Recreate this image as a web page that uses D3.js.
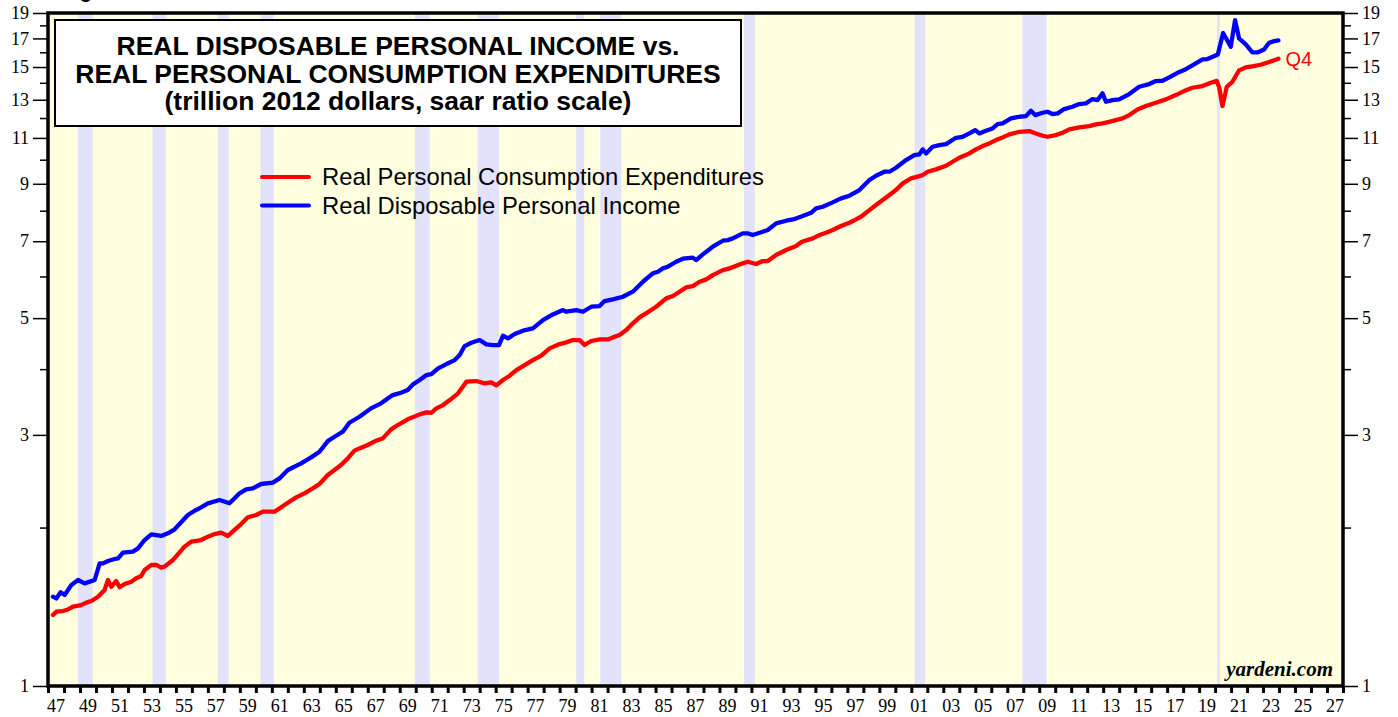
<!DOCTYPE html>
<html>
<head>
<meta charset="utf-8">
<script src="https://cdn.jsdelivr.net/npm/d3@7"></script>
<style>
  html, body { margin: 0; padding: 0; background: #ffffff; }
  svg { display: block; }
  .tick text { font-family: "Liberation Serif", "Times New Roman", serif; font-size: 18px; fill: #000; }
</style>
</head>
<body>
<svg id="chart" width="1398" height="717"></svg>
<script>
// Quarterly observations (decimal year, trillions of 2012 dollars, saar)
const rpceDates = [
  1947.31,1947.52,1947.94,1948.25,1948.56,1949.08,1949.40,1949.71,1950.13,1950.54,1950.75,1950.96,
  1951.27,1951.48,1951.79,1952.21,1952.52,1952.83,1953.04,1953.46,1953.77,1954.08,1954.29,1954.81,
  1955.54,1955.96,1956.58,1957.00,1957.42,1957.83,1958.25,1958.67,1959.08,1959.50,1960.02,1960.44,
  1961.17,1961.58,1962.00,1962.52,1963.04,1963.56,1963.98,1964.50,1964.92,1965.33,1965.75,1966.17,
  1966.48,1967.00,1967.52,1967.94,1968.46,1968.88,1969.50,1970.25,1970.67,1970.98,1971.29,1971.71,
  1972.13,1972.65,1973.17,1973.79,1974.31,1974.73,1975.04,1975.46,1975.88,1976.29,1976.81,1977.33,
  1977.85,1978.38,1979.00,1979.42,1979.83,1980.25,1980.56,1980.98,1981.50,1982.02,1982.33,1982.75,
  1983.17,1983.58,1984.00,1984.63,1985.04,1985.67,1986.08,1986.50,1986.92,1987.33,1987.75,1988.17,
  1988.58,1989.21,1989.63,1990.46,1990.77,1991.29,1991.71,1992.02,1992.54,1993.17,1993.79,1994.15,
  1994.83,1995.25,1995.67,1996.08,1996.60,1997.13,1997.54,1997.85,1998.38,1998.79,1999.21,1999.63,
  2000.04,2000.46,2000.98,2001.50,2001.71,2002.02,2002.54,2003.17,2003.58,2004.00,2004.63,2005.04,
  2005.46,2005.88,2006.29,2006.71,2007.13,2007.75,2008.38,2008.79,2009.21,2009.52,2010.04,2010.46,
  2010.88,2011.50,2012.13,2012.54,2012.96,2013.38,2013.79,2014.21,2014.63,2015.15,2015.67,2016.29,
  2016.92,2017.54,2018.06,2018.58,2019.21,2019.73,2020.10,2020.25,2020.46,2020.73,2021.08,2021.50,
  2021.92,2022.40,2022.85,2023.38,2023.96
];
const rpceValues = [
  1.364,1.384,1.388,1.398,1.415,1.425,1.440,1.450,1.478,1.522,1.590,1.544,
  1.583,1.540,1.562,1.578,1.602,1.618,1.661,1.698,1.698,1.678,1.686,1.735,
  1.840,1.880,1.894,1.922,1.944,1.956,1.928,1.979,2.031,2.092,2.113,2.144,
  2.144,2.185,2.230,2.283,2.323,2.374,2.420,2.517,2.573,2.629,2.707,2.800,
  2.828,2.870,2.925,2.955,3.073,3.132,3.211,3.282,3.311,3.305,3.369,3.418,
  3.494,3.598,3.786,3.797,3.759,3.775,3.726,3.814,3.887,3.984,4.072,4.162,
  4.242,4.380,4.464,4.497,4.543,4.543,4.445,4.524,4.556,4.556,4.596,4.643,
  4.746,4.887,5.017,5.157,5.256,5.451,5.507,5.613,5.720,5.753,5.863,5.924,
  6.036,6.170,6.216,6.354,6.400,6.335,6.419,6.419,6.590,6.735,6.854,6.985,
  7.087,7.191,7.265,7.351,7.481,7.590,7.702,7.791,8.022,8.200,8.381,8.567,
  8.756,9.016,9.215,9.309,9.350,9.488,9.586,9.740,9.912,10.087,10.279,10.461,
  10.614,10.739,10.897,11.025,11.171,11.300,11.334,11.218,11.105,11.056,11.138,11.252,
  11.418,11.518,11.584,11.669,11.722,11.804,11.892,11.980,12.155,12.462,12.644,12.828,
  13.021,13.268,13.502,13.700,13.800,14.000,14.120,13.750,12.640,13.760,14.063,14.780,
  14.980,15.060,15.150,15.330,15.560
];

const rdpiDates = [
  1947.31,1947.52,1947.79,1948.04,1948.46,1948.88,1949.29,1949.92,1950.23,1950.44,1950.75,1951.17,
  1951.38,1951.69,1952.31,1952.63,1953.04,1953.46,1954.08,1954.50,1954.92,1955.75,1956.17,1956.58,
  1957.00,1957.73,1958.35,1958.67,1958.98,1959.40,1959.81,1960.33,1961.06,1961.48,1962.00,1962.83,
  1963.46,1963.98,1964.50,1964.92,1965.44,1965.85,1966.48,1967.20,1967.83,1968.56,1969.08,1969.50,
  1969.83,1970.25,1970.67,1970.98,1971.40,1971.92,1972.44,1972.75,1973.06,1973.48,1974.00,1974.42,
  1974.83,1975.21,1975.46,1975.77,1976.19,1976.71,1977.33,1977.96,1978.58,1979.21,1979.42,1980.04,
  1980.46,1980.98,1981.50,1981.81,1982.33,1982.96,1983.58,1984.21,1984.83,1985.15,1985.46,1985.77,
  1986.29,1986.71,1987.33,1987.54,1987.96,1988.58,1989.21,1989.52,1989.83,1990.46,1990.77,1991.08,
  1991.71,1992.02,1992.54,1993.17,1993.60,1994.21,1994.73,1995.04,1995.46,1996.08,1996.60,1997.13,
  1997.75,1998.38,1998.79,1999.31,1999.63,2000.04,2000.67,2001.19,2001.50,2001.71,2001.92,2002.33,
  2002.75,2003.17,2003.79,2004.21,2004.63,2005.00,2005.25,2005.67,2006.08,2006.40,2006.71,2007.23,
  2007.75,2008.17,2008.48,2008.75,2009.21,2009.52,2009.83,2010.15,2010.56,2011.08,2011.50,2011.92,
  2012.33,2012.65,2012.96,2013.17,2013.58,2014.00,2014.63,2015.25,2015.88,2016.29,2016.71,2017.13,
  2017.65,2018.06,2018.58,2019.21,2019.52,2020.17,2020.50,2020.98,2021.25,2021.50,2021.92,2022.33,
  2022.65,2023.06,2023.38,2023.69,2023.96
];
const rdpiValues = [
  1.478,1.467,1.507,1.489,1.556,1.590,1.567,1.590,1.710,1.710,1.728,1.743,
  1.748,1.792,1.800,1.826,1.894,1.942,1.928,1.950,1.985,2.113,2.153,2.185,
  2.224,2.256,2.224,2.273,2.323,2.364,2.374,2.420,2.434,2.480,2.573,2.649,
  2.719,2.787,2.920,2.976,3.042,3.164,3.248,3.369,3.444,3.571,3.608,3.650,
  3.742,3.814,3.898,3.915,4.014,4.090,4.162,4.254,4.425,4.490,4.543,4.458,
  4.445,4.445,4.630,4.576,4.664,4.733,4.781,4.958,5.082,5.180,5.142,5.180,
  5.142,5.256,5.272,5.388,5.428,5.490,5.613,5.863,6.081,6.126,6.216,6.262,
  6.399,6.485,6.513,6.447,6.609,6.834,7.015,7.035,7.087,7.244,7.244,7.191,
  7.297,7.351,7.569,7.657,7.700,7.814,7.928,8.081,8.140,8.296,8.443,8.542,
  8.756,9.148,9.322,9.488,9.488,9.654,9.984,10.204,10.234,10.461,10.279,10.583,
  10.661,10.708,11.008,11.056,11.218,11.383,11.218,11.350,11.467,11.686,11.722,11.980,
  12.067,12.102,12.389,12.156,12.281,12.334,12.210,12.247,12.480,12.607,12.756,12.795,
  13.038,12.981,13.368,12.886,12.981,13.021,13.327,13.759,13.922,14.106,14.125,14.336,
  14.628,14.801,15.108,15.508,15.531,15.850,17.410,16.390,18.420,17.000,16.560,15.990,
  15.990,16.200,16.680,16.800,16.850
];

// NBER recessions (start, end as decimal years)
const recessionStarts = [1948.87,1953.54,1957.62,1960.29,1969.95,1973.87,1980.04,1981.54,1990.54,2001.21,2007.95,2020.12];
const recessionEnds   = [1949.79,1954.37,1958.29,1961.12,1970.87,1975.21,1980.54,1982.87,1991.21,2001.87,2009.46,2020.29];

const yMajorTicks = [1,3,5,7,9,11,13,15,17,19];
const yMinorTicks = [2,4,6,8,10,12,14,16,18];
const xYearTicks = d3.range(1947, 2029);
const xLabelYears = d3.range(1947, 2028, 2);

const titleLines = [
  "REAL DISPOSABLE PERSONAL INCOME vs.",
  "REAL PERSONAL CONSUMPTION EXPENDITURES",
  "(trillion 2012 dollars, saar ratio scale)"
];
const seriesNames = ["Real Personal Consumption Expenditures", "Real Disposable Personal Income"];
const seriesColors = ["#ff0000", "#0000ff"];

const svg = d3.select("#chart");
const plot = { left: 48, right: 1343, top: 13, bottom: 686 };

const x = d3.scaleLinear().domain([1947, 2028]).range([plot.left, plot.right]);
const y = d3.scaleLog().domain([1, 19]).range([plot.bottom, plot.top]);

// plot background
svg.append("rect")
  .attr("x", plot.left).attr("y", plot.top)
  .attr("width", plot.right - plot.left).attr("height", plot.bottom - plot.top)
  .attr("fill", "#ffffe0");

// recession shading
svg.append("g").selectAll("rect")
  .data(d3.zip(recessionStarts, recessionEnds))
  .join("rect")
  .attr("x", d => x(d[0]))
  .attr("width", d => Math.max(2, x(d[1]) - x(d[0])))
  .attr("y", plot.top)
  .attr("height", plot.bottom - plot.top)
  .attr("fill", "#e2e2fb");

// title box
const box = svg.append("g");
box.append("rect")
  .attr("x", 55).attr("y", 20).attr("width", 686).attr("height", 106)
  .attr("fill", "#ffffff").attr("stroke", "#000").attr("stroke-width", 2);
box.selectAll("text")
  .data(titleLines)
  .join("text")
  .attr("x", 398)
  .attr("y", (d, i) => 55 + i * 27.5)
  .attr("text-anchor", "middle")
  .attr("font-family", "Liberation Sans, Arial, sans-serif")
  .attr("font-weight", "bold")
  .attr("font-size", 26.5)
  .text(d => d);

// legend
const legend = svg.append("g");
seriesNames.forEach((name, i) => {
  const ly = 177 + i * 28.5;
  legend.append("line")
    .attr("x1", 262).attr("x2", 309).attr("y1", ly).attr("y2", ly)
    .attr("stroke", seriesColors[i]).attr("stroke-width", 4).attr("stroke-linecap", "round");
  legend.append("text")
    .attr("x", 322).attr("y", ly + 8)
    .attr("font-family", "Liberation Sans, Arial, sans-serif")
    .attr("font-size", 23.8)
    .attr("fill", "#000")
    .text(name);
});

// series lines
const line = d3.line()
  .x(d => x(d[0]))
  .y(d => y(d[1]))
  .curve(d3.curveLinear);

const series = [
  d3.zip(rdpiDates, rdpiValues),
  d3.zip(rpceDates, rpceValues)
];
const seriesOrder = [1, 0];
series.forEach((data, i) => {
  svg.append("path")
    .datum(data)
    .attr("fill", "none")
    .attr("stroke", seriesColors[seriesOrder[i]])
    .attr("stroke-width", 4.3)
    .attr("stroke-linejoin", "round")
    .attr("stroke-linecap", "round")
    .attr("d", line);
});

// latest quarter label
svg.append("text")
  .attr("x", x(rpceDates[rpceDates.length - 1]) + 7)
  .attr("y", y(rpceValues[rpceValues.length - 1]) + 7)
  .attr("font-family", "Liberation Sans, Arial, sans-serif")
  .attr("font-size", 20)
  .attr("fill", "#ff0000")
  .text("Q4");

// source tag
svg.append("text")
  .attr("x", 1333).attr("y", 676)
  .attr("text-anchor", "end")
  .attr("font-family", "Liberation Serif, Times New Roman, serif")
  .attr("font-weight", "bold")
  .attr("font-style", "italic")
  .attr("font-size", 21)
  .text("yardeni.com");

// left & right axes
const fmt = d3.format("d");
function styleAxis(g) {
  g.select(".domain").remove();
  g.selectAll(".tick line").attr("stroke", "#000").attr("stroke-width", 1.5);
}
svg.append("g")
  .attr("transform", `translate(${plot.left},0)`)
  .call(d3.axisLeft(y).tickValues(yMajorTicks).tickFormat(fmt).tickSize(15).tickPadding(4))
  .call(styleAxis);
svg.append("g")
  .attr("transform", `translate(${plot.left},0)`)
  .call(d3.axisLeft(y).tickValues(yMinorTicks).tickFormat("").tickSize(8))
  .call(styleAxis);
svg.append("g")
  .attr("transform", `translate(${plot.right},0)`)
  .call(d3.axisRight(y).tickValues(yMajorTicks).tickFormat(fmt).tickSize(15).tickPadding(4))
  .call(styleAxis);
svg.append("g")
  .attr("transform", `translate(${plot.right},0)`)
  .call(d3.axisRight(y).tickValues(yMinorTicks).tickFormat("").tickSize(8))
  .call(styleAxis);

// bottom axis: a tick per year, labels every other year centred in the year
svg.append("g")
  .attr("transform", `translate(0,${plot.bottom})`)
  .call(d3.axisBottom(x).tickValues(xYearTicks).tickFormat("").tickSize(7))
  .call(g => {
    g.select(".domain").remove();
    g.selectAll(".tick line").attr("stroke", "#000").attr("stroke-width", 3);
  });
svg.append("g")
  .selectAll("text")
  .data(xLabelYears)
  .join("text")
  .attr("x", d => x(d + 0.5))
  .attr("y", 712)
  .attr("text-anchor", "middle")
  .attr("font-family", "Liberation Serif, Times New Roman, serif")
  .attr("font-size", 18)
  .text(d => String(d % 100).padStart(2, "0"));

// frame
svg.append("rect")
  .attr("x", plot.left).attr("y", plot.top)
  .attr("width", plot.right - plot.left).attr("height", plot.bottom - plot.top)
  .attr("fill", "none").attr("stroke", "#000").attr("stroke-width", 3.5);

// heading above the frame, mostly outside the visible area
svg.append("text")
  .attr("x", 62).attr("y", -2)
  .attr("font-family", "Liberation Sans, Arial, sans-serif")
  .attr("font-weight", "bold")
  .attr("font-size", 20)
  .text("Figure 1.");
</script>
</body>
</html>
